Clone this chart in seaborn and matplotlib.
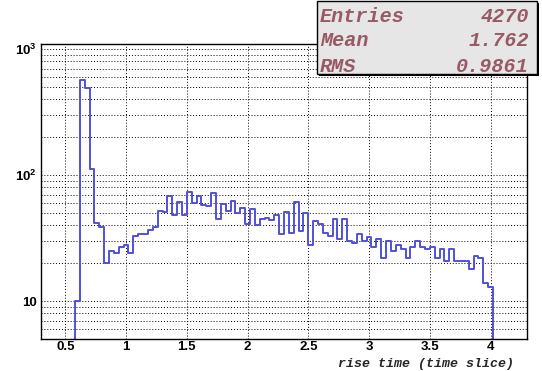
import numpy as np
import pandas as pd
import matplotlib
matplotlib.use("Agg")
import matplotlib.pyplot as plt
from matplotlib.ticker import FixedLocator, MultipleLocator, LogLocator, NullFormatter
from matplotlib.patches import Rectangle
import seaborn as sns

# histogram: 100 bins of 0.04 starting at 0.3
x_start = 0.3
bin_width = 0.04
counts = [0, 0, 0, 0, 0, 0, 0,
          10, 570, 488, 111, 42, 39, 20, 25, 24, 27,
          28, 24, 33, 34, 34, 37, 39, 52, 51, 68,
          48, 61, 48, 73, 60, 68, 58, 57, 72, 45,
          59, 52, 62, 50, 55, 41, 54, 40, 45, 46,
          44, 48, 34, 51, 35, 61, 36, 50, 28, 43,
          41, 35, 33, 45, 31, 45, 30, 29, 34, 30,
          32, 27, 31, 22, 30, 25, 28, 26, 22, 27,
          30, 27, 26, 27, 22, 26, 21, 26, 21, 21,
          21, 18, 23, 22, 14, 13,
          0, 0, 0, 0, 0, 0, 0]

stats_names = ["Entries", "Mean", "RMS"]
stats_values = ["4270", "1.762", "0.9861"]

x_ticks = [0.5, 1, 1.5, 2, 2.5, 3, 3.5, 4]
x_tick_labels = ["0.5", "1", "1.5", "2", "2.5", "3", "3.5", "4"]
y_ticks = [10, 100, 1000]
y_tick_labels = ["10", r"$\mathbf{10^{2}}$", r"$\mathbf{10^{3}}$"]

n_bins = len(counts)
x_end = x_start + bin_width * n_bins
centers = x_start + bin_width * (np.arange(n_bins) + 0.5)
df = pd.DataFrame({"rise": centers, "n": counts})

sns.set_style("white")
plt.rcParams["font.family"] = ["Liberation Sans", "DejaVu Sans"]
plt.rcParams["mathtext.fontset"] = "custom"
plt.rcParams["mathtext.rm"] = "Liberation Sans"
plt.rcParams["mathtext.bf"] = "Liberation Sans:bold"

fig = plt.figure(figsize=(5.42, 3.71), dpi=100)
W, H = 542, 371
ax = fig.add_axes([41 / W, 1 - 339 / H, 486 / W, 295 / H])

sns.histplot(data=df, x="rise", weights="n", bins=n_bins, binrange=(x_start, x_end),
             element="step", fill=False, color="#5050dc", linewidth=1.4, ax=ax)
ax.set_yscale("log")
ax.set_xlim(0.3, 4.3)
ax.set_ylim(5, 1100)

ax.xaxis.set_major_locator(FixedLocator(x_ticks))
ax.set_xticklabels(x_tick_labels)
ax.xaxis.set_minor_locator(MultipleLocator(0.1))
ax.yaxis.set_major_locator(FixedLocator(y_ticks))
ax.set_yticklabels(y_tick_labels)
ax.yaxis.set_minor_locator(LogLocator(base=10, subs=np.arange(2, 10)))
ax.yaxis.set_minor_formatter(NullFormatter())

ax.tick_params(which="both", direction="in", top=False, right=False,
               labelsize=9.5, colors="black", width=1)
ax.tick_params(which="major", length=8, pad=3)
ax.tick_params(axis="x", which="major", pad=1.5)
ax.tick_params(which="minor", length=4)
for lab in ax.get_xticklabels() + ax.get_yticklabels():
    lab.set_fontweight("bold")

grid_kw = dict(color="black", linestyle=(0, (1, 2)), linewidth=0.7)
ax.grid(which="major", axis="x", **grid_kw)
ax.grid(which="both", axis="y", **grid_kw)
ax.set_axisbelow(True)

for s in ax.spines.values():
    s.set_color("black")
    s.set_linewidth(1)

ax.set_xlabel("")
ax.set_ylabel("")
fig.text(514 / W, 1 - 364 / H, "rise time (time slice)", ha="right", va="center",
         family="Liberation Mono", weight="bold", style="italic", size=9.5)

# stats box
bx0, bx1, by0, by1 = 317, 537, 1, 74
fig.patches.append(Rectangle((bx0 / W + 2 / W, 1 - (by1 + 2) / H), (bx1 - bx0) / W,
                             (by1 - by0) / H, transform=fig.transFigure,
                             facecolor="black", edgecolor="none", zorder=5))
fig.patches.append(Rectangle((bx0 / W, 1 - by1 / H), (bx1 - bx0) / W, (by1 - by0) / H,
                             transform=fig.transFigure, facecolor="#e6e6e6",
                             edgecolor="black", linewidth=1, zorder=6))
for i, (name, val) in enumerate(zip(stats_names, stats_values)):
    yy = 1 - (16 + 25 * i) / H
    fig.text(320 / W, yy, name, ha="left", va="center", family="Liberation Mono",
             weight="bold", style="italic", size=14.5, color="#985a66", zorder=7)
    fig.text(529 / W, yy, val, ha="right", va="center", family="Liberation Mono",
             weight="bold", style="italic", size=14.5, color="#985a66", zorder=7)

fig.savefig("out.png", dpi=100)
